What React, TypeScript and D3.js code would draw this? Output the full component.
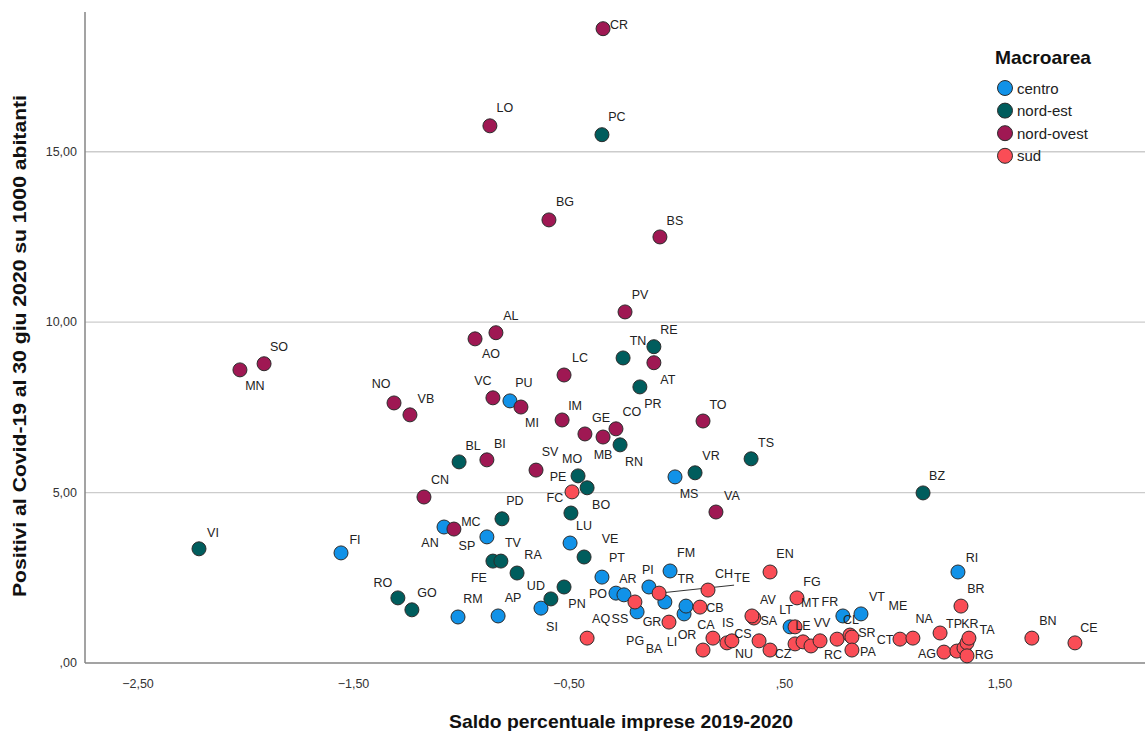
import React from "react";
import * as d3 from "d3";

// Macroarea categories and colours
const areas = ["centro", "nord-est", "nord-ovest", "sud"];
const areaColors = ["#1192e8", "#005d5d", "#9f1853", "#fa4d56"];

// centro
const centroCodes = ["PU", "MS", "AN", "MC", "LU", "FI", "SI", "RM", "AP", "PT", "PO", "AR", "PI", "FM", "TR", "PG", "LI", "GR", "LT", "FR", "VT", "RI"];
const centroSaldo = [-0.774, -0.008, -1.08, -0.881, -0.495, -1.558, -0.63, -1.015, -0.829, -0.347, -0.282, -0.245, -0.129, -0.031, -0.055, -0.184, 0.034, 0.043, 0.526, 0.771, 0.855, 1.305];
const centroPositivi = [7.69, 5.46, 3.99, 3.7, 3.52, 3.23, 1.61, 1.35, 1.38, 2.52, 2.05, 2.0, 2.23, 2.7, 1.79, 1.5, 1.44, 1.67, 1.06, 1.38, 1.44, 2.67];

// nord-est
const nordEstCodes = ["PC", "RE", "TN", "PR", "RN", "TS", "VR", "BL", "MO", "BO", "FC", "BZ", "PD", "VE", "VI", "TV", "FE", "RA", "UD", "PN", "RO", "GO"];
const nordEstSaldo = [-0.347, -0.106, -0.249, -0.171, -0.263, 0.345, 0.085, -1.01, -0.458, -0.416, -0.491, 1.143, -0.811, -0.43, -2.217, -0.853, -0.816, -0.741, -0.584, -0.523, -1.294, -1.229];
const nordEstPositivi = [15.5, 9.28, 8.95, 8.1, 6.4, 5.99, 5.58, 5.9, 5.49, 5.14, 4.4, 4.99, 4.23, 3.11, 3.35, 2.99, 2.99, 2.64, 1.88, 2.23, 1.91, 1.56];

// nord-ovest
const nordOvestCodes = ["CR", "LO", "BG", "BS", "PV", "AL", "AO", "AT", "LC", "VC", "MI", "MN", "SO", "NO", "VB", "IM", "GE", "MB", "CO", "TO", "BI", "SV", "CN", "VA", "SP"];
const nordOvestSaldo = [-0.342, -0.867, -0.593, -0.078, -0.24, -0.839, -0.936, -0.106, -0.523, -0.853, -0.723, -2.027, -1.915, -1.312, -1.238, -0.532, -0.426, -0.342, -0.282, 0.122, -0.881, -0.653, -1.173, 0.182, -1.034];
const nordOvestPositivi = [18.61, 15.76, 13.0, 12.5, 10.3, 9.69, 9.51, 8.81, 8.45, 7.78, 7.51, 8.6, 8.78, 7.63, 7.28, 7.13, 6.72, 6.63, 6.87, 7.1, 5.96, 5.66, 4.87, 4.43, 3.93];

// sud
const sudCodes = ["PE", "AQ", "SS", "TE", "CH", "BA", "CB", "EN", "OR", "CA", "IS", "CS", "NU", "CZ", "SA", "AV", "FG", "MT", "PZ", "LE", "BT", "VV", "RC", "CL", "SR", "PA", "CT", "ME", "NA", "AG", "SU", "TA", "TP", "KR", "RG", "BR", "BN", "CE"];
const sudSaldo = [-0.486, -0.416, -0.194, -0.082, 0.145, -0.036, 0.108, 0.433, 0.122, 0.168, 0.233, 0.256, 0.382, 0.433, 0.358, 0.349, 0.558, 0.549, 0.549, 0.586, 0.623, 0.665, 0.744, 0.804, 0.813, 0.813, 1.036, 1.096, 1.222, 1.24, 1.3, 1.333, 1.347, 1.356, 1.347, 1.319, 1.648, 1.848];
const sudPositivi = [5.02, 0.73, 1.79, 2.05, 2.14, 1.2, 1.64, 2.67, 0.38, 0.73, 0.59, 0.65, 0.65, 0.38, 1.32, 1.38, 1.91, 1.06, 0.56, 0.62, 0.5, 0.65, 0.7, 0.82, 0.76, 0.38, 0.7, 0.73, 0.88, 0.32, 0.35, 0.44, 0.59, 0.73, 0.21, 1.67, 0.73, 0.59];

// Codes drawn without a text label (covered by neighbours)
const unlabeled = ["PZ", "BT", "SU"];

// Axis ticks
const xTicks = [-2.5, -1.5, -0.5, 0.5, 1.5];
const yTicks = [0, 5, 10, 15];
const yGrid = [5, 10, 15];

// Label placement: pixel offset of the label centre from its marker
const labelNudge: Record<string, [number, number]> = {
  PU: [14, -18], MS: [14, 17], AN: [-14, 16], MC: [-16, -15], LU: [14, -17], FI: [14, -13], SI: [11, 19],
  RM: [15, -18], AP: [15, -18], PT: [15, -19], PO: [-18, 1], AR: [4, -16], PI: [-1, -17], FM: [16, -18],
  TR: [21, -23], PG: [-2, 29], LI: [-12, 28], GR: [-34, 16], LT: [-4, -17], FR: [-13, -14], VT: [16, -17], RI: [14, -14],
  PC: [15, -18], RE: [15, -17], TN: [15, -17], PR: [13, 17], RN: [14, 17], TS: [15, -16], VR: [16, -17],
  BL: [14, -16], MO: [-6, -17], BO: [14, 17], FC: [-16, -15], BZ: [14, -17], PD: [13, -18], VE: [26, -18],
  VI: [14, -16], TV: [20, -18], FE: [-22, 17], RA: [16, -18], UD: [-15, -13], PN: [13, 17], RO: [-15, -15], GO: [15, -17],
  CR: [16, -4], LO: [15, -18], BG: [16, -18], BS: [15, -16], PV: [15, -17], AL: [15, -17], AO: [16, 15],
  AT: [14, 17], LC: [16, -17], VC: [-10, -17], MI: [11, 16], MN: [15, 16], SO: [15, -17], NO: [-13, -19],
  VB: [16, -16], IM: [13, -14], GE: [16, -16], MB: [0, 18], CO: [16, -17], TO: [15, -16], BI: [13, -16],
  SV: [14, -18], CN: [16, -17], VA: [16, -16], SP: [13, 17],
  PE: [-14, -15], AQ: [14, -19], SS: [-15, 17], TE: [83, -15], CH: [16, -16], BA: [-15, 27], CB: [15, 1],
  EN: [15, -18], OR: [-16, -15], CA: [-7, -13], IS: [1, -20], CS: [11, -7], NU: [-15, 13], CZ: [13, 4],
  SA: [15, 3], AV: [16, -16], FG: [15, -16], MT: [15, -24], LE: [0, -16], VV: [2, -18], RC: [-4, 16],
  CL: [1, -15], SR: [15, -4], PA: [16, 2], CT: [-15, 1], ME: [-15, -32], NA: [-16, -14], AG: [-17, 2],
  TA: [23, -18], TP: [-13, -19], KR: [1, -14], RG: [17, -1], BR: [15, -17], BN: [16, -17], CE: [14, -15],
};
// Labels far from their marker get a leader line
const leaderLines = ["TE"];

const W = 1145;
const H = 731;
const plotLeft = 85;
const plotRight = 1145;
const plotTop = 12;
const plotBottom = 663;

type Pt = { code: string; x: number; y: number; area: number };

const groups: [string[], number[], number[]][] = [
  [centroCodes, centroSaldo, centroPositivi],
  [nordEstCodes, nordEstSaldo, nordEstPositivi],
  [nordOvestCodes, nordOvestSaldo, nordOvestPositivi],
  [sudCodes, sudSaldo, sudPositivi],
];

const points: Pt[] = groups.flatMap(([codes, xs, ys], g) =>
  codes.map((code, i) => ({ code, x: xs[i], y: ys[i], area: g }))
);

const fmt = (v: number) => {
  const s = d3.format(".2f")(v).replace(".", ",");
  return s.replace(/^(-?)0,/, "$1,");
};

export default function App() {
  const x = d3.scaleLinear().domain([-2.746, 2.173]).range([plotLeft, plotRight]);
  const y = d3.scaleLinear().domain([0, 19.1]).range([plotBottom, plotTop]);
  const font = "'Liberation Sans', Arial, sans-serif";

  return (
    <svg
      width={W}
      height={H}
      style={{ position: "absolute", left: 0, top: 0, background: "#fff" }}
      fontFamily={font}
    >
      <rect x={0} y={0} width={W} height={H} fill="#fff" />
      {/* horizontal grid */}
      {yGrid.map((v) => (
        <line key={v} x1={plotLeft} x2={plotRight} y1={y(v)} y2={y(v)} stroke="#cccccc" strokeWidth={1.4} />
      ))}
      {/* axes */}
      <line x1={plotLeft} x2={plotLeft} y1={plotTop} y2={plotBottom} stroke="#858585" strokeWidth={1.5} />
      <line x1={plotLeft} x2={plotRight} y1={plotBottom} y2={plotBottom} stroke="#858585" strokeWidth={1.5} />
      {yTicks.map((v) => (
        <text key={v} x={77} y={y(v)} textAnchor="end" dominantBaseline="central" fontSize={12.5} fill="#333">
          {fmt(v)}
        </text>
      ))}
      {xTicks.map((v) => (
        <text key={v} x={x(v)} y={684} textAnchor="middle" dominantBaseline="central" fontSize={12.5} fill="#333">
          {fmt(v)}
        </text>
      ))}
      {/* axis titles */}
      <text
        x={621}
        y={721}
        textAnchor="middle"
        dominantBaseline="central"
        fontSize={19}
        fontWeight="bold"
        fill="#111"
        textLength={344}
        lengthAdjust="spacingAndGlyphs"
      >
        Saldo percentuale imprese 2019-2020
      </text>
      <text
        transform={`translate(19,346) rotate(-90)`}
        textAnchor="middle"
        dominantBaseline="central"
        fontSize={19}
        fontWeight="bold"
        fill="#111"
        textLength={502}
        lengthAdjust="spacingAndGlyphs"
      >
        Positivi al Covid-19 al 30 giu 2020 su 1000 abitanti
      </text>
      {/* leader lines */}
      {points
        .filter((p) => leaderLines.includes(p.code))
        .map((p) => {
          const [dx, dy] = labelNudge[p.code];
          return (
            <line
              key={"ll" + p.code}
              x1={x(p.x)}
              y1={y(p.y)}
              x2={x(p.x) + dx - 8}
              y2={y(p.y) + dy + 7}
              stroke="#333"
              strokeWidth={1}
            />
          );
        })}
      {/* markers */}
      {points.map((p) => (
        <circle
          key={p.code}
          cx={x(p.x)}
          cy={y(p.y)}
          r={7}
          fill={areaColors[p.area]}
          stroke="#2b2b2b"
          strokeWidth={1}
        />
      ))}
      {/* labels */}
      {points
        .filter((p) => !unlabeled.includes(p.code))
        .map((p) => {
          const [dx, dy] = labelNudge[p.code] || [14, -16];
          return (
            <text
              key={"t" + p.code}
              x={x(p.x) + dx}
              y={y(p.y) + dy}
              textAnchor="middle"
              dominantBaseline="central"
              fontSize={12.5}
              fill="#222"
            >
              {p.code}
            </text>
          );
        })}
      {/* legend */}
      <text x={995} y={57} dominantBaseline="central" fontSize={19} fontWeight="bold" fill="#111" textLength={96} lengthAdjust="spacingAndGlyphs">
        Macroarea
      </text>
      {areas.map((a, i) => (
        <g key={a} transform={`translate(1005,${88 + i * 22.6})`}>
          <circle r={7.5} fill={areaColors[i]} stroke="#2b2b2b" strokeWidth={1} />
          <text x={12} y={0} dominantBaseline="central" fontSize={15} fill="#222">
            {a}
          </text>
        </g>
      ))}
    </svg>
  );
}
